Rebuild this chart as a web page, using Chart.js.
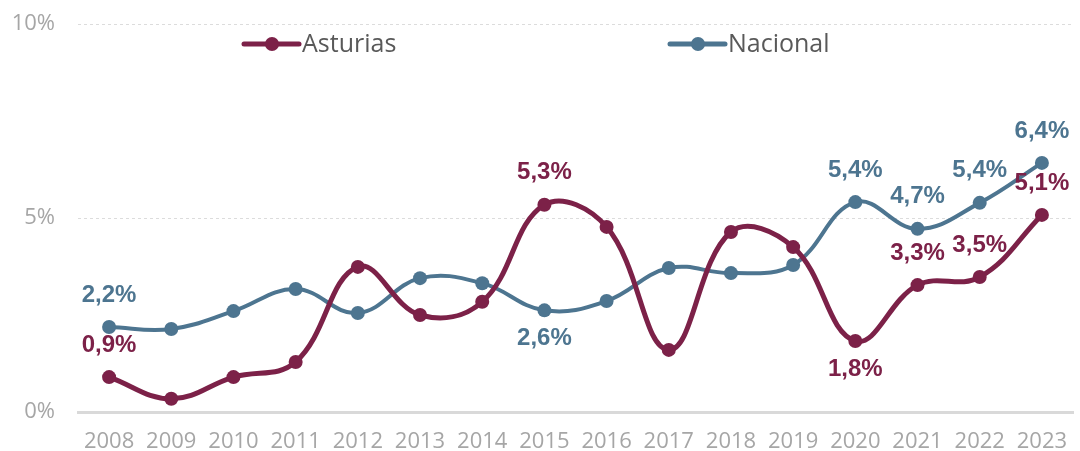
<!DOCTYPE html>
<html>
<head>
<meta charset="utf-8">
<script src="https://cdn.jsdelivr.net/npm/chart.js@4.4.1/dist/chart.umd.min.js"></script>
<style>
  html, body { margin: 0; padding: 0; background: #fff; }
  #wrap { width: 1080px; height: 451px; position: relative; }
</style>
</head>
<body>
<div id="wrap"><canvas id="c" width="1080" height="451"></canvas></div>
<script>
const years = ['2008','2009','2010','2011','2012','2013','2014','2015','2016','2017','2018','2019','2020','2021','2022','2023'];
const asturias = [0.90, 0.34, 0.90, 1.29, 3.74, 2.50, 2.84, 5.34, 4.77, 1.60, 4.64, 4.25, 1.83, 3.27, 3.48, 5.08];
const nacional = [2.19, 2.14, 2.60, 3.17, 2.55, 3.45, 3.32, 2.62, 2.86, 3.71, 3.58, 3.79, 5.41, 4.72, 5.39, 6.42];
const yTicks = [0, 5, 10];
// indices with data labels and their placement
const asturiasLabelIdx = [0, 7, 12, 13, 14, 15];
const asturiasLabelPos = ['above', 'above', 'below', 'above', 'above', 'above'];
const nacionalLabelIdx = [0, 7, 12, 13, 14, 15];
const nacionalLabelPos = ['above', 'below', 'above', 'above', 'above', 'above'];

const colAst = '#7c2148';
const colNac = '#4d7590';

const fmt = v => v.toFixed(1).replace('.', ',') + '%';

const labelPlugin = {
  id: 'dataLabels',
  afterDatasetsDraw(chart) {
    const ctx = chart.ctx;
    const specs = [
      {ds: 0, idx: asturiasLabelIdx, pos: asturiasLabelPos, color: colAst, data: asturias},
      {ds: 1, idx: nacionalLabelIdx, pos: nacionalLabelPos, color: colNac, data: nacional}
    ];
    ctx.save();
    ctx.font = 'bold 24px "Liberation Sans", Arial, sans-serif';
    ctx.textAlign = 'center';
    ctx.textBaseline = 'middle';
    specs.forEach(s => {
      const meta = chart.getDatasetMeta(s.ds);
      s.idx.forEach((i, k) => {
        const pt = meta.data[i];
        const txt = fmt(s.data[i]);
        let x = pt.x;
        const w = ctx.measureText(txt).width;
        if (x + w / 2 > chart.width - 2) x = chart.width - 2 - w / 2;
        const y = s.pos[k] === 'above' ? pt.y - 32 : pt.y + 28;
        ctx.fillStyle = s.color;
        ctx.fillText(txt, x, y);
      });
    });
    ctx.restore();
  }
};

const legendPlugin = {
  id: 'customLegend',
  afterDraw(chart) {
    const ctx = chart.ctx;
    const items = [
      {label: chart.data.datasets[0].label, color: colAst, x: 244},
      {label: chart.data.datasets[1].label, color: colNac, x: 670}
    ];
    const y = 44;
    ctx.save();
    items.forEach(it => {
      ctx.strokeStyle = it.color;
      ctx.lineWidth = 5;
      ctx.lineCap = 'round';
      ctx.beginPath();
      ctx.moveTo(it.x, y);
      ctx.lineTo(it.x + 55, y);
      ctx.stroke();
      ctx.fillStyle = it.color;
      ctx.beginPath();
      ctx.arc(it.x + 28, y, 7, 0, Math.PI * 2);
      ctx.fill();
      ctx.fillStyle = '#595959';
      ctx.font = '25px "Open Sans", sans-serif';
      ctx.textAlign = 'left';
      ctx.textBaseline = 'middle';
      ctx.fillText(it.label, it.x + 58, y + 1);
    });
    ctx.restore();
  }
};

new Chart(document.getElementById('c'), {
  type: 'line',
  data: {
    labels: years,
    datasets: [
      {
        label: 'Asturias',
        data: asturias,
        borderColor: colAst,
        backgroundColor: colAst,
        borderWidth: 5,
        pointRadius: 7,
        pointHoverRadius: 7,
        pointBackgroundColor: colAst,
        pointBorderWidth: 0,
        tension: 0.4
      },
      {
        label: 'Nacional',
        data: nacional,
        borderColor: colNac,
        backgroundColor: colNac,
        borderWidth: 4,
        pointRadius: 7,
        pointHoverRadius: 7,
        pointBackgroundColor: colNac,
        pointBorderWidth: 0,
        tension: 0.4
      }
    ]
  },
  options: {
    responsive: false,
    animation: false,
    layout: { padding: { top: 24, right: 5, left: 0, bottom: 0 } },
    plugins: { legend: { display: false }, tooltip: { enabled: false } },
    scales: {
      x: {
        offset: true,
        grid: { display: false },
        border: { color: '#d9d9d9', width: 3 },
        ticks: { color: '#a6a6a6', font: { family: '"Open Sans", sans-serif', size: 22 }, padding: 9, maxRotation: 0 },
        afterFit(scale) { scale.height = 39; }
      },
      y: {
        min: 0, max: 10,
        afterBuildTicks(scale) { scale.ticks = yTicks.map(v => ({value: v})); },
        grid: {
          color: ctx => ctx.tick && ctx.tick.value === 0 ? 'rgba(0,0,0,0)' : '#dcdcdc',
          lineWidth: 1,
          drawTicks: false
        },
        border: { display: false, dash: [3, 3] },
        ticks: {
          color: '#a6a6a6',
          font: { family: '"Open Sans", sans-serif', size: 22 },
          padding: 23,
          callback: v => v + '%'
        },
        afterFit(scale) { scale.width = 78; scale.paddingTop = 0; scale.paddingBottom = 0; }
      }
    }
  },
  plugins: [labelPlugin, legendPlugin]
});
</script>
</body>
</html>
